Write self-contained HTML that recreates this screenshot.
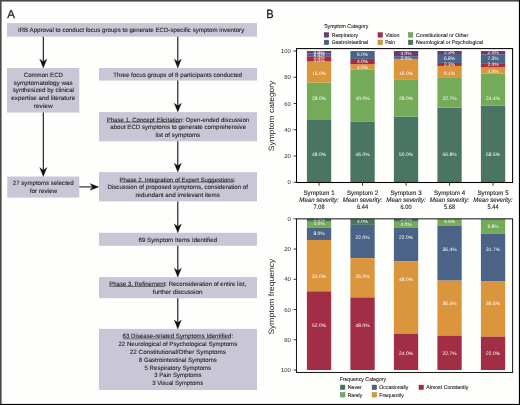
<!DOCTYPE html><html><head><meta charset="utf-8"><style>html,body{margin:0;padding:0;background:#fff;}svg{display:block;will-change:transform;}text{font-family:"Liberation Sans",sans-serif;text-rendering:geometricPrecision;}</style></head><body>
<svg width="520" height="405" viewBox="0 0 520 405">
<rect x="0" y="0" width="520" height="405" fill="#fefefd"/>
<text x="7.25" y="17.50" font-size="11.6" fill="#231f20" textLength="7.70" lengthAdjust="spacingAndGlyphs" style=""  stroke="#231f20" stroke-width="0.3">A</text>
<rect x="7" y="23.1" width="250.00" height="13.60" fill="#c9c7d6"/>
<rect x="7" y="68" width="72.30" height="44.60" fill="#c9c7d6"/>
<rect x="99" y="68.0" width="158.00" height="12.60" fill="#c9c7d6"/>
<rect x="99" y="112.1" width="158.00" height="29.20" fill="#c9c7d6"/>
<rect x="7.2" y="176.5" width="72.10" height="21.10" fill="#c9c7d6"/>
<rect x="99" y="172.1" width="158.00" height="29.30" fill="#c9c7d6"/>
<rect x="99" y="232.8" width="158.00" height="13.00" fill="#c9c7d6"/>
<rect x="99" y="277.1" width="158.00" height="21.10" fill="#c9c7d6"/>
<rect x="99" y="328.9" width="158.00" height="61.10" fill="#c9c7d6"/>
<line x1="43.3" y1="36.7" x2="43.3" y2="63" stroke="#111" stroke-width="1.1"/>
<path d="M39.699999999999996,59.1 L43.3,61.7 L46.9,59.1 L43.3,68 Z" fill="#111" stroke="#111" stroke-width="0.3" stroke-linejoin="round"/>
<line x1="177.8" y1="36.7" x2="177.8" y2="63.0" stroke="#111" stroke-width="1.1"/>
<path d="M174.20000000000002,59.1 L177.8,61.7 L181.4,59.1 L177.8,68.0 Z" fill="#111" stroke="#111" stroke-width="0.3" stroke-linejoin="round"/>
<line x1="177.8" y1="80.6" x2="177.8" y2="107.1" stroke="#111" stroke-width="1.1"/>
<path d="M174.20000000000002,103.19999999999999 L177.8,105.8 L181.4,103.19999999999999 L177.8,112.1 Z" fill="#111" stroke="#111" stroke-width="0.3" stroke-linejoin="round"/>
<line x1="43.3" y1="112.6" x2="43.3" y2="171.5" stroke="#111" stroke-width="1.1"/>
<path d="M39.699999999999996,167.6 L43.3,170.2 L46.9,167.6 L43.3,176.5 Z" fill="#111" stroke="#111" stroke-width="0.3" stroke-linejoin="round"/>
<line x1="177.8" y1="141.3" x2="177.8" y2="167.1" stroke="#111" stroke-width="1.1"/>
<path d="M174.20000000000002,163.2 L177.8,165.79999999999998 L181.4,163.2 L177.8,172.1 Z" fill="#111" stroke="#111" stroke-width="0.3" stroke-linejoin="round"/>
<line x1="177.8" y1="201.4" x2="177.8" y2="227.8" stroke="#111" stroke-width="1.1"/>
<path d="M174.20000000000002,223.9 L177.8,226.5 L181.4,223.9 L177.8,232.8 Z" fill="#111" stroke="#111" stroke-width="0.3" stroke-linejoin="round"/>
<line x1="177.8" y1="245.8" x2="177.8" y2="272.1" stroke="#111" stroke-width="1.1"/>
<path d="M174.20000000000002,268.20000000000005 L177.8,270.8 L181.4,268.20000000000005 L177.8,277.1 Z" fill="#111" stroke="#111" stroke-width="0.3" stroke-linejoin="round"/>
<line x1="177.8" y1="298.2" x2="177.8" y2="323.9" stroke="#111" stroke-width="1.1"/>
<path d="M174.20000000000002,320.0 L177.8,322.59999999999997 L181.4,320.0 L177.8,328.9 Z" fill="#111" stroke="#111" stroke-width="0.3" stroke-linejoin="round"/>
<line x1="79.3" y1="186.9" x2="93.8" y2="186.9" stroke="#333" stroke-width="1.2"/>
<path d="M90.0,183.6 L92.6,186.9 L90.0,190.20000000000002 L98.8,186.9 Z" fill="#111" stroke="#111" stroke-width="0.3" stroke-linejoin="round"/>
<text x="17.95" y="32.30" font-size="6.2" fill="#231f20" textLength="226.30" lengthAdjust="spacingAndGlyphs" style=""  stroke="#231f20" stroke-width="0.1">IRB Approval to conduct focus groups to generate ECD-specific symptom inventory</text>
<text x="23.75" y="76.80" font-size="6.2" fill="#231f20" textLength="39.20" lengthAdjust="spacingAndGlyphs" style=""  stroke="#231f20" stroke-width="0.1">Common ECD</text>
<text x="13.75" y="84.50" font-size="6.2" fill="#231f20" textLength="59.00" lengthAdjust="spacingAndGlyphs" style=""  stroke="#231f20" stroke-width="0.1">symptomatology was</text>
<text x="12.75" y="92.20" font-size="6.2" fill="#231f20" textLength="61.20" lengthAdjust="spacingAndGlyphs" style=""  stroke="#231f20" stroke-width="0.1">synthesized by clinical</text>
<text x="11.35" y="99.90" font-size="6.2" fill="#231f20" textLength="63.80" lengthAdjust="spacingAndGlyphs" style=""  stroke="#231f20" stroke-width="0.1">expertise and literature</text>
<text x="33.75" y="107.50" font-size="6.2" fill="#231f20" textLength="19.00" lengthAdjust="spacingAndGlyphs" style=""  stroke="#231f20" stroke-width="0.1">review</text>
<text x="113.25" y="76.50" font-size="6.2" fill="#231f20" textLength="128.75" lengthAdjust="spacingAndGlyphs" style=""  stroke="#231f20" stroke-width="0.1">Three focus groups of 8 participants conducted</text>
<text x="106.65" y="121.70" font-size="6.2" fill="#231f20" textLength="142.50" lengthAdjust="spacingAndGlyphs" style=""  stroke="#231f20" stroke-width="0.1">Phase 1. Concept Elicitation: Open-ended discussion</text>
<line x1="106.90" y1="122.20" x2="181.30" y2="122.20" stroke="#333" stroke-width="0.6"/>
<text x="110.25" y="129.20" font-size="6.2" fill="#231f20" textLength="135.80" lengthAdjust="spacingAndGlyphs" style=""  stroke="#231f20" stroke-width="0.1">about ECD symptoms to generate comprehensive</text>
<text x="155.45" y="136.60" font-size="6.2" fill="#231f20" textLength="44.80" lengthAdjust="spacingAndGlyphs" style=""  stroke="#231f20" stroke-width="0.1">list of symptoms</text>
<text x="12.75" y="185.10" font-size="6.2" fill="#231f20" textLength="60.90" lengthAdjust="spacingAndGlyphs" style=""  stroke="#231f20" stroke-width="0.1">27 symptoms selected</text>
<text x="29.65" y="192.80" font-size="6.2" fill="#231f20" textLength="27.50" lengthAdjust="spacingAndGlyphs" style=""  stroke="#231f20" stroke-width="0.1">for review</text>
<text x="119.45" y="181.60" font-size="6.2" fill="#231f20" textLength="115.90" lengthAdjust="spacingAndGlyphs" style=""  stroke="#231f20" stroke-width="0.1">Phase 2. Integration of Expert Suggestions:</text>
<line x1="119.70" y1="182.10" x2="233.60" y2="182.10" stroke="#333" stroke-width="0.6"/>
<text x="107.45" y="189.30" font-size="6.2" fill="#231f20" textLength="140.50" lengthAdjust="spacingAndGlyphs" style=""  stroke="#231f20" stroke-width="0.1">Discussion of proposed symptoms, consideration of</text>
<text x="135.45" y="196.80" font-size="6.2" fill="#231f20" textLength="84.50" lengthAdjust="spacingAndGlyphs" style=""  stroke="#231f20" stroke-width="0.1">redundant and irrelevant items</text>
<text x="138.45" y="242.10" font-size="6.2" fill="#231f20" textLength="78.70" lengthAdjust="spacingAndGlyphs" style=""  stroke="#231f20" stroke-width="0.1">69 Symptom Items Identified</text>
<text x="109.25" y="286.00" font-size="6.2" fill="#231f20" textLength="136.80" lengthAdjust="spacingAndGlyphs" style=""  stroke="#231f20" stroke-width="0.1">Phase 3. Refinement: Reconsideration of entire list,</text>
<line x1="109.50" y1="286.50" x2="164.60" y2="286.50" stroke="#333" stroke-width="0.6"/>
<text x="152.75" y="293.70" font-size="6.2" fill="#231f20" textLength="49.80" lengthAdjust="spacingAndGlyphs" style=""  stroke="#231f20" stroke-width="0.1">further discussion</text>
<text x="122.55" y="338.40" font-size="6.2" fill="#231f20" textLength="110.60" lengthAdjust="spacingAndGlyphs" style=""  stroke="#231f20" stroke-width="0.1">63 Disease-related Symptoms Identified:</text>
<line x1="122.80" y1="338.90" x2="230.50" y2="338.90" stroke="#333" stroke-width="0.6"/>
<text x="118.45" y="346.10" font-size="6.2" fill="#231f20" textLength="118.80" lengthAdjust="spacingAndGlyphs" style=""  stroke="#231f20" stroke-width="0.1">22 Neurological of Psychological Symptoms</text>
<text x="129.85" y="353.90" font-size="6.2" fill="#231f20" textLength="96.00" lengthAdjust="spacingAndGlyphs" style=""  stroke="#231f20" stroke-width="0.1">22 Constitutional/Other Symptoms</text>
<text x="138.85" y="361.80" font-size="6.2" fill="#231f20" textLength="78.00" lengthAdjust="spacingAndGlyphs" style=""  stroke="#231f20" stroke-width="0.1">8 Gastrointestinal Symptoms</text>
<text x="144.55" y="369.60" font-size="6.2" fill="#231f20" textLength="66.60" lengthAdjust="spacingAndGlyphs" style=""  stroke="#231f20" stroke-width="0.1">5 Respiratory Symptoms</text>
<text x="154.35" y="377.40" font-size="6.2" fill="#231f20" textLength="47.10" lengthAdjust="spacingAndGlyphs" style=""  stroke="#231f20" stroke-width="0.1">3 Pain Symptoms</text>
<text x="152.15" y="385.10" font-size="6.2" fill="#231f20" textLength="51.20" lengthAdjust="spacingAndGlyphs" style=""  stroke="#231f20" stroke-width="0.1">3 Visual Symptoms</text>
<text x="266.25" y="17.70" font-size="12.0" fill="#231f20" textLength="7.40" lengthAdjust="spacingAndGlyphs" style=""  stroke="#231f20" stroke-width="0.3">B</text>
<text x="324.15" y="28.30" font-size="5.6" fill="#231f20" textLength="44.10" lengthAdjust="spacingAndGlyphs" style=""  stroke="#231f20" stroke-width="0.1">Symptom Category</text>
<rect x="324.15" y="32.60" width="4.6" height="4.6" fill="#6c3b6b" stroke="#512c50" stroke-width="0.4"/>
<text x="331.75" y="36.70" font-size="5.3" fill="#231f20" textLength="26.20" lengthAdjust="spacingAndGlyphs" style=""  stroke="#231f20" stroke-width="0.12">Respiratory</text>
<rect x="324.15" y="40.10" width="4.6" height="4.6" fill="#4a6387" stroke="#374a65" stroke-width="0.4"/>
<text x="331.75" y="43.60" font-size="5.3" fill="#231f20" textLength="36.20" lengthAdjust="spacingAndGlyphs" style=""  stroke="#231f20" stroke-width="0.12">Gastrointestinal</text>
<rect x="377.95" y="32.60" width="4.6" height="4.6" fill="#a22e46" stroke="#792234" stroke-width="0.4"/>
<text x="385.15" y="36.70" font-size="5.3" fill="#231f20" textLength="14.30" lengthAdjust="spacingAndGlyphs" style=""  stroke="#231f20" stroke-width="0.12">Vision</text>
<rect x="377.95" y="40.10" width="4.6" height="4.6" fill="#da953d" stroke="#a36f2d" stroke-width="0.4"/>
<text x="385.15" y="43.60" font-size="5.3" fill="#231f20" textLength="9.70" lengthAdjust="spacingAndGlyphs" style=""  stroke="#231f20" stroke-width="0.12">Pain</text>
<rect x="408.30" y="32.60" width="4.6" height="4.6" fill="#73ab58" stroke="#568042" stroke-width="0.4"/>
<text x="416.05" y="36.70" font-size="5.3" fill="#231f20" textLength="52.20" lengthAdjust="spacingAndGlyphs" style=""  stroke="#231f20" stroke-width="0.12">Constitutional or Other</text>
<rect x="408.30" y="40.10" width="4.6" height="4.6" fill="#4a7562" stroke="#375749" stroke-width="0.4"/>
<text x="416.05" y="43.60" font-size="5.3" fill="#231f20" textLength="66.90" lengthAdjust="spacingAndGlyphs" style=""  stroke="#231f20" stroke-width="0.12">Neurological or Psychological</text>
<rect x="306.90" y="119.28" width="24.3" height="63.02" fill="#4a7562"/>
<rect x="306.90" y="82.51" width="24.3" height="36.76" fill="#73ab58"/>
<rect x="306.90" y="61.50" width="24.3" height="21.01" fill="#da953d"/>
<rect x="306.90" y="56.25" width="24.3" height="5.25" fill="#a22e46"/>
<rect x="306.90" y="53.63" width="24.3" height="2.63" fill="#4a6387"/>
<rect x="306.90" y="51.00" width="24.3" height="2.63" fill="#6c3b6b"/>
<rect x="350.40" y="121.90" width="24.3" height="60.40" fill="#4a7562"/>
<rect x="350.40" y="69.38" width="24.3" height="52.52" fill="#73ab58"/>
<rect x="350.40" y="64.13" width="24.3" height="5.25" fill="#da953d"/>
<rect x="350.40" y="58.88" width="24.3" height="5.25" fill="#a22e46"/>
<rect x="350.40" y="51.00" width="24.3" height="7.88" fill="#4a6387"/>
<rect x="393.90" y="116.65" width="24.3" height="65.65" fill="#4a7562"/>
<rect x="393.90" y="79.89" width="24.3" height="36.76" fill="#73ab58"/>
<rect x="393.90" y="58.88" width="24.3" height="21.01" fill="#da953d"/>
<rect x="393.90" y="56.25" width="24.3" height="2.63" fill="#4a6387"/>
<rect x="393.90" y="51.00" width="24.3" height="5.25" fill="#6c3b6b"/>
<rect x="437.40" y="107.72" width="24.3" height="74.58" fill="#4a7562"/>
<rect x="437.40" y="77.92" width="24.3" height="29.81" fill="#73ab58"/>
<rect x="437.40" y="65.97" width="24.3" height="11.95" fill="#da953d"/>
<rect x="437.40" y="62.95" width="24.3" height="3.02" fill="#a22e46"/>
<rect x="437.40" y="54.02" width="24.3" height="8.93" fill="#4a6387"/>
<rect x="437.40" y="51.00" width="24.3" height="3.02" fill="#6c3b6b"/>
<rect x="480.90" y="105.49" width="24.3" height="76.81" fill="#4a7562"/>
<rect x="480.90" y="73.45" width="24.3" height="32.04" fill="#73ab58"/>
<rect x="480.90" y="67.02" width="24.3" height="6.43" fill="#da953d"/>
<rect x="480.90" y="63.87" width="24.3" height="3.15" fill="#a22e46"/>
<rect x="480.90" y="54.28" width="24.3" height="9.58" fill="#4a6387"/>
<rect x="480.90" y="51.00" width="24.3" height="3.28" fill="#6c3b6b"/>
<text x="319.05" y="54.15" font-size="4.9" fill="#fff" text-anchor="middle">2.0%</text>
<text x="319.05" y="56.45" font-size="4.9" fill="#fff" text-anchor="middle">2.0%</text>
<text x="319.05" y="59.35" font-size="4.9" fill="#fff" text-anchor="middle">2.0%</text>
<text x="319.05" y="62.15" font-size="4.9" fill="#fff" text-anchor="middle">4.0%</text>
<text x="319.05" y="75.25" font-size="4.9" fill="#fff" text-anchor="middle">16.0%</text>
<text x="319.05" y="99.55" font-size="4.9" fill="#fff" text-anchor="middle">28.0%</text>
<text x="319.05" y="155.65" font-size="4.9" fill="#fff" text-anchor="middle">48.0%</text>
<text x="362.55" y="55.85" font-size="4.9" fill="#fff" text-anchor="middle">6.0%</text>
<text x="362.55" y="62.65" font-size="4.9" fill="#fff" text-anchor="middle">4.0%</text>
<text x="362.55" y="69.05" font-size="4.9" fill="#fff" text-anchor="middle">4.0%</text>
<text x="362.55" y="99.55" font-size="4.9" fill="#fff" text-anchor="middle">40.0%</text>
<text x="362.55" y="155.65" font-size="4.9" fill="#fff" text-anchor="middle">46.0%</text>
<text x="406.05" y="54.75" font-size="4.9" fill="#fff" text-anchor="middle">4.0%</text>
<text x="406.05" y="59.55" font-size="4.9" fill="#fff" text-anchor="middle">2.0%</text>
<text x="406.05" y="75.25" font-size="4.9" fill="#fff" text-anchor="middle">16.0%</text>
<text x="406.05" y="99.55" font-size="4.9" fill="#fff" text-anchor="middle">28.0%</text>
<text x="406.05" y="155.65" font-size="4.9" fill="#fff" text-anchor="middle">50.0%</text>
<text x="449.55" y="54.45" font-size="4.9" fill="#fff" text-anchor="middle">2.3%</text>
<text x="449.55" y="59.85" font-size="4.9" fill="#fff" text-anchor="middle">6.8%</text>
<text x="449.55" y="65.65" font-size="4.9" fill="#fff" text-anchor="middle">2.3%</text>
<text x="449.55" y="75.25" font-size="4.9" fill="#fff" text-anchor="middle">9.1%</text>
<text x="449.55" y="99.55" font-size="4.9" fill="#fff" text-anchor="middle">22.7%</text>
<text x="449.55" y="155.65" font-size="4.9" fill="#fff" text-anchor="middle">56.8%</text>
<text x="493.05" y="54.45" font-size="4.9" fill="#fff" text-anchor="middle">2.4%</text>
<text x="493.05" y="59.85" font-size="4.9" fill="#fff" text-anchor="middle">7.3%</text>
<text x="493.05" y="65.65" font-size="4.9" fill="#fff" text-anchor="middle">2.4%</text>
<text x="493.05" y="72.75" font-size="4.9" fill="#fff" text-anchor="middle">4.9%</text>
<text x="493.05" y="99.55" font-size="4.9" fill="#fff" text-anchor="middle">24.4%</text>
<text x="493.05" y="155.65" font-size="4.9" fill="#fff" text-anchor="middle">58.5%</text>
<rect x="296.5" y="48.6" width="216.1" height="133.9" fill="none" stroke="#000" stroke-width="1.05"/>
<line x1="293.6" y1="182.30" x2="296.5" y2="182.30" stroke="#000" stroke-width="0.8"/>
<text x="290.8" y="184.40" font-size="5.9" fill="#231f20" text-anchor="end">0</text>
<line x1="293.6" y1="156.04" x2="296.5" y2="156.04" stroke="#000" stroke-width="0.8"/>
<text x="290.8" y="158.14" font-size="5.9" fill="#231f20" text-anchor="end">20</text>
<line x1="293.6" y1="129.78" x2="296.5" y2="129.78" stroke="#000" stroke-width="0.8"/>
<text x="290.8" y="131.88" font-size="5.9" fill="#231f20" text-anchor="end">40</text>
<line x1="293.6" y1="103.52" x2="296.5" y2="103.52" stroke="#000" stroke-width="0.8"/>
<text x="290.8" y="105.62" font-size="5.9" fill="#231f20" text-anchor="end">60</text>
<line x1="293.6" y1="77.26" x2="296.5" y2="77.26" stroke="#000" stroke-width="0.8"/>
<text x="290.8" y="79.36" font-size="5.9" fill="#231f20" text-anchor="end">80</text>
<line x1="293.6" y1="51.00" x2="296.5" y2="51.00" stroke="#000" stroke-width="0.8"/>
<text x="290.8" y="53.10" font-size="5.9" fill="#231f20" text-anchor="end">100</text>
<line x1="319.05" y1="182.5" x2="319.05" y2="185.7" stroke="#000" stroke-width="0.8"/>
<text x="303.45" y="195.10" font-size="6.4" fill="#231f20" stroke="#231f20" stroke-width="0.12" textLength="31.20" lengthAdjust="spacingAndGlyphs" style="">Symptom 1</text>
<text x="299.35" y="202.00" font-size="6.4" fill="#231f20" stroke="#231f20" stroke-width="0.12" textLength="39.40" lengthAdjust="spacingAndGlyphs" style="font-style:italic;">Mean severity:</text>
<text x="313.55" y="209.40" font-size="6.4" fill="#231f20" stroke="#231f20" stroke-width="0.12" textLength="11.00" lengthAdjust="spacingAndGlyphs" style="">7.08</text>
<line x1="362.55" y1="182.5" x2="362.55" y2="185.7" stroke="#000" stroke-width="0.8"/>
<text x="346.95" y="195.10" font-size="6.4" fill="#231f20" stroke="#231f20" stroke-width="0.12" textLength="31.20" lengthAdjust="spacingAndGlyphs" style="">Symptom 2</text>
<text x="342.85" y="202.00" font-size="6.4" fill="#231f20" stroke="#231f20" stroke-width="0.12" textLength="39.40" lengthAdjust="spacingAndGlyphs" style="font-style:italic;">Mean severity:</text>
<text x="357.05" y="209.40" font-size="6.4" fill="#231f20" stroke="#231f20" stroke-width="0.12" textLength="11.00" lengthAdjust="spacingAndGlyphs" style="">6.44</text>
<line x1="406.05" y1="182.5" x2="406.05" y2="185.7" stroke="#000" stroke-width="0.8"/>
<text x="390.45" y="195.10" font-size="6.4" fill="#231f20" stroke="#231f20" stroke-width="0.12" textLength="31.20" lengthAdjust="spacingAndGlyphs" style="">Symptom 3</text>
<text x="386.35" y="202.00" font-size="6.4" fill="#231f20" stroke="#231f20" stroke-width="0.12" textLength="39.40" lengthAdjust="spacingAndGlyphs" style="font-style:italic;">Mean severity:</text>
<text x="400.55" y="209.40" font-size="6.4" fill="#231f20" stroke="#231f20" stroke-width="0.12" textLength="11.00" lengthAdjust="spacingAndGlyphs" style="">6.00</text>
<line x1="449.55" y1="182.5" x2="449.55" y2="185.7" stroke="#000" stroke-width="0.8"/>
<text x="433.95" y="195.10" font-size="6.4" fill="#231f20" stroke="#231f20" stroke-width="0.12" textLength="31.20" lengthAdjust="spacingAndGlyphs" style="">Symptom 4</text>
<text x="429.85" y="202.00" font-size="6.4" fill="#231f20" stroke="#231f20" stroke-width="0.12" textLength="39.40" lengthAdjust="spacingAndGlyphs" style="font-style:italic;">Mean severity:</text>
<text x="444.05" y="209.40" font-size="6.4" fill="#231f20" stroke="#231f20" stroke-width="0.12" textLength="11.00" lengthAdjust="spacingAndGlyphs" style="">5.68</text>
<line x1="493.05" y1="182.5" x2="493.05" y2="185.7" stroke="#000" stroke-width="0.8"/>
<text x="477.45" y="195.10" font-size="6.4" fill="#231f20" stroke="#231f20" stroke-width="0.12" textLength="31.20" lengthAdjust="spacingAndGlyphs" style="">Symptom 5</text>
<text x="473.35" y="202.00" font-size="6.4" fill="#231f20" stroke="#231f20" stroke-width="0.12" textLength="39.40" lengthAdjust="spacingAndGlyphs" style="font-style:italic;">Mean severity:</text>
<text x="487.55" y="209.40" font-size="6.4" fill="#231f20" stroke="#231f20" stroke-width="0.12" textLength="11.00" lengthAdjust="spacingAndGlyphs" style="">5.44</text>
<text transform="translate(273.7,115.9) rotate(-90)" x="0" y="0" font-size="7.8" fill="#231f20" text-anchor="middle" textLength="70.5" lengthAdjust="spacingAndGlyphs">Symptom category</text>
<text transform="translate(273.7,296.6) rotate(-90)" x="0" y="0" font-size="7.8" fill="#231f20" text-anchor="middle" textLength="76" lengthAdjust="spacingAndGlyphs">Symptom frequency</text>
<rect x="306.90" y="218.80" width="24.3" height="3.02" fill="#4a7562"/>
<rect x="306.90" y="221.82" width="24.3" height="6.05" fill="#73ab58"/>
<rect x="306.90" y="227.87" width="24.3" height="12.10" fill="#4a6387"/>
<rect x="306.90" y="239.97" width="24.3" height="51.41" fill="#da953d"/>
<rect x="306.90" y="291.38" width="24.3" height="78.62" fill="#a22e46"/>
<rect x="350.40" y="218.80" width="24.3" height="6.05" fill="#4a7562"/>
<rect x="350.40" y="224.85" width="24.3" height="33.26" fill="#4a6387"/>
<rect x="350.40" y="258.11" width="24.3" height="39.31" fill="#da953d"/>
<rect x="350.40" y="297.42" width="24.3" height="72.58" fill="#a22e46"/>
<rect x="393.90" y="218.80" width="24.3" height="3.02" fill="#4a7562"/>
<rect x="393.90" y="221.82" width="24.3" height="6.05" fill="#73ab58"/>
<rect x="393.90" y="227.87" width="24.3" height="33.26" fill="#4a6387"/>
<rect x="393.90" y="261.14" width="24.3" height="72.58" fill="#da953d"/>
<rect x="393.90" y="333.71" width="24.3" height="36.29" fill="#a22e46"/>
<rect x="437.40" y="218.80" width="24.3" height="6.80" fill="#73ab58"/>
<rect x="437.40" y="225.60" width="24.3" height="55.04" fill="#4a6387"/>
<rect x="437.40" y="280.64" width="24.3" height="55.04" fill="#da953d"/>
<rect x="437.40" y="335.68" width="24.3" height="34.32" fill="#a22e46"/>
<rect x="480.90" y="218.80" width="24.3" height="14.82" fill="#73ab58"/>
<rect x="480.90" y="233.62" width="24.3" height="47.93" fill="#4a6387"/>
<rect x="480.90" y="281.55" width="24.3" height="55.19" fill="#da953d"/>
<rect x="480.90" y="336.74" width="24.3" height="33.26" fill="#a22e46"/>
<text x="319.05" y="221.45" font-size="4.9" fill="#fff" text-anchor="middle">2.0%</text>
<text x="319.05" y="225.45" font-size="4.9" fill="#fff" text-anchor="middle">4.0%</text>
<text x="319.05" y="235.35" font-size="4.9" fill="#fff" text-anchor="middle">8.0%</text>
<text x="319.05" y="278.05" font-size="4.9" fill="#fff" text-anchor="middle">34.0%</text>
<text x="319.05" y="327.45" font-size="4.9" fill="#fff" text-anchor="middle">52.0%</text>
<text x="362.55" y="223.45" font-size="4.9" fill="#fff" text-anchor="middle">4.0%</text>
<text x="362.55" y="239.25" font-size="4.9" fill="#fff" text-anchor="middle">22.0%</text>
<text x="362.55" y="278.05" font-size="4.9" fill="#fff" text-anchor="middle">26.0%</text>
<text x="362.55" y="327.45" font-size="4.9" fill="#fff" text-anchor="middle">48.0%</text>
<text x="406.05" y="220.95" font-size="4.9" fill="#fff" text-anchor="middle">2.0%</text>
<text x="406.05" y="226.35" font-size="4.9" fill="#fff" text-anchor="middle">4.0%</text>
<text x="406.05" y="239.25" font-size="4.9" fill="#fff" text-anchor="middle">22.0%</text>
<text x="406.05" y="281.15" font-size="4.9" fill="#fff" text-anchor="middle">48.0%</text>
<text x="406.05" y="355.05" font-size="4.9" fill="#fff" text-anchor="middle">24.0%</text>
<text x="449.55" y="223.45" font-size="4.9" fill="#fff" text-anchor="middle">4.5%</text>
<text x="449.55" y="251.15" font-size="4.9" fill="#fff" text-anchor="middle">36.4%</text>
<text x="449.55" y="305.25" font-size="4.9" fill="#fff" text-anchor="middle">36.4%</text>
<text x="449.55" y="355.05" font-size="4.9" fill="#fff" text-anchor="middle">22.7%</text>
<text x="493.05" y="227.75" font-size="4.9" fill="#fff" text-anchor="middle">9.8%</text>
<text x="493.05" y="251.15" font-size="4.9" fill="#fff" text-anchor="middle">31.7%</text>
<text x="493.05" y="305.25" font-size="4.9" fill="#fff" text-anchor="middle">36.6%</text>
<text x="493.05" y="355.05" font-size="4.9" fill="#fff" text-anchor="middle">22.0%</text>
<rect x="296.5" y="218.85" width="216.1" height="153.65" fill="none" stroke="#1a1a1a" stroke-width="1.05"/>
<line x1="293.6" y1="218.80" x2="296.5" y2="218.80" stroke="#000" stroke-width="0.8"/>
<text x="290.8" y="220.90" font-size="5.9" fill="#231f20" text-anchor="end">0</text>
<line x1="293.6" y1="249.04" x2="296.5" y2="249.04" stroke="#000" stroke-width="0.8"/>
<text x="290.8" y="251.14" font-size="5.9" fill="#231f20" text-anchor="end">20</text>
<line x1="293.6" y1="279.28" x2="296.5" y2="279.28" stroke="#000" stroke-width="0.8"/>
<text x="290.8" y="281.38" font-size="5.9" fill="#231f20" text-anchor="end">40</text>
<line x1="293.6" y1="309.52" x2="296.5" y2="309.52" stroke="#000" stroke-width="0.8"/>
<text x="290.8" y="311.62" font-size="5.9" fill="#231f20" text-anchor="end">60</text>
<line x1="293.6" y1="339.76" x2="296.5" y2="339.76" stroke="#000" stroke-width="0.8"/>
<text x="290.8" y="341.86" font-size="5.9" fill="#231f20" text-anchor="end">80</text>
<line x1="293.6" y1="370.00" x2="296.5" y2="370.00" stroke="#000" stroke-width="0.8"/>
<text x="290.8" y="372.10" font-size="5.9" fill="#231f20" text-anchor="end">100</text>
<text x="339.65" y="380.50" font-size="5.6" fill="#231f20" textLength="46.40" lengthAdjust="spacingAndGlyphs" style=""  stroke="#231f20" stroke-width="0.1">Frequency Category</text>
<rect x="340.35" y="385.05" width="4.6" height="4.6" fill="#4a7562" stroke="#375749" stroke-width="0.4"/>
<text x="347.75" y="388.90" font-size="5.3" fill="#231f20" textLength="14.00" lengthAdjust="spacingAndGlyphs" style=""  stroke="#231f20" stroke-width="0.12">Never</text>
<rect x="340.35" y="392.45" width="4.6" height="4.6" fill="#73ab58" stroke="#568042" stroke-width="0.4"/>
<text x="347.75" y="396.50" font-size="5.3" fill="#231f20" textLength="14.50" lengthAdjust="spacingAndGlyphs" style=""  stroke="#231f20" stroke-width="0.12">Rarely</text>
<rect x="372.05" y="385.05" width="4.6" height="4.6" fill="#4a6387" stroke="#374a65" stroke-width="0.4"/>
<text x="379.35" y="388.90" font-size="5.3" fill="#231f20" textLength="28.90" lengthAdjust="spacingAndGlyphs" style=""  stroke="#231f20" stroke-width="0.12">Occasionally</text>
<rect x="372.05" y="392.45" width="4.6" height="4.6" fill="#da953d" stroke="#a36f2d" stroke-width="0.4"/>
<text x="379.35" y="396.50" font-size="5.3" fill="#231f20" textLength="24.40" lengthAdjust="spacingAndGlyphs" style=""  stroke="#231f20" stroke-width="0.12">Frequently</text>
<rect x="418.95" y="385.05" width="4.6" height="4.6" fill="#a22e46" stroke="#792234" stroke-width="0.4"/>
<text x="426.25" y="388.90" font-size="5.3" fill="#231f20" textLength="42.00" lengthAdjust="spacingAndGlyphs" style=""  stroke="#231f20" stroke-width="0.12">Almost Constantly</text>
<rect x="0" y="0" width="520" height="1.6" fill="#4a4a4a"/>
<rect x="0" y="0" width="1.6" height="405" fill="#4a4a4a"/>
<rect x="518.9" y="0" width="1.1" height="405" fill="#000"/>
<rect x="0" y="403.9" width="520" height="1.1" fill="#000"/>
</svg></body></html>
